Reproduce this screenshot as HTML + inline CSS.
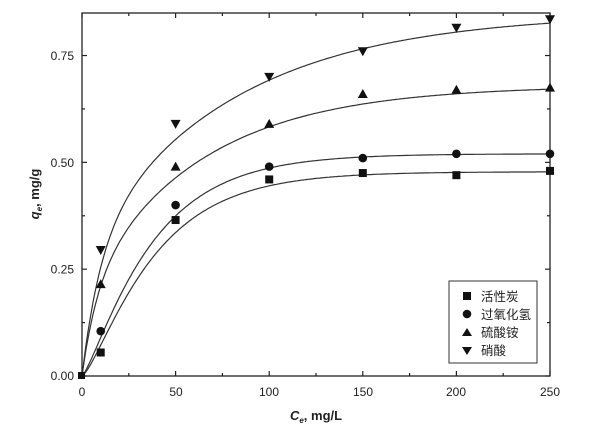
<!DOCTYPE html>
<html><head><meta charset="utf-8"><style>
html,body{margin:0;padding:0;background:#fff;}
svg{display:block;}
text{font-family:"Liberation Sans","Noto Sans CJK SC",sans-serif;fill:#222;}
</style></head><body>
<svg id="s" width="600" height="434" viewBox="0 0 600 434" xmlns="http://www.w3.org/2000/svg">
<rect x="82" y="13" width="468" height="363" fill="none" stroke="#222" stroke-width="1.3"/>
<g id="ticks" stroke="#222" stroke-width="1.2"></g>
<g font-size="12" text-anchor="end">
<text x="74" y="380">0.00</text>
<text x="74" y="273.5">0.25</text>
<text x="74" y="167">0.50</text>
<text x="74" y="60">0.75</text>
</g>
<g font-size="12" text-anchor="middle">
<text x="82" y="396">0</text>
<text x="176" y="396">50</text>
<text x="269" y="396">100</text>
<text x="363" y="396">150</text>
<text x="456" y="396">200</text>
<text x="550" y="396">250</text>
</g>
<text x="316" y="420" font-size="13" font-weight="bold" text-anchor="middle"><tspan font-style="italic">C</tspan><tspan font-size="8" dy="3" font-style="italic">e</tspan><tspan dy="-3">, mg/L</tspan></text>
<text transform="translate(39,194) rotate(-90)" font-size="13" font-weight="bold" text-anchor="middle"><tspan font-style="italic">q</tspan><tspan font-size="8" dy="3" font-style="italic">e</tspan><tspan dy="-3">, mg/g</tspan></text>
<g id="curves" fill="none" stroke="#333" stroke-width="1.2"></g>
<g id="pts" fill="#111"></g>
<rect x="449" y="281" width="88" height="82" fill="#fff" stroke="#333" stroke-width="1"/>
<g font-size="12.5">
<rect x="463" y="292" width="8" height="8" fill="#111"/><text x="481" y="301">活性炭</text>
<circle cx="467" cy="314" r="4.3" fill="#111"/><text x="481" y="319">过氧化氢</text>
<polygon points="467,328 472,336 462,336" fill="#111"/><text x="481" y="337">硫酸铵</text>
<polygon points="462,347 472,347 467,355" fill="#111"/><text x="481" y="355">硝酸</text>
</g>
</svg>
<script>
var X=function(c){return 82+c*1.872},Y=function(q){return 376-q*427.3};
var t=document.getElementById('ticks'),h='';
for(var c=0;c<=250;c+=25){var x=X(c),l=c%50?3:5;h+='<line x1="'+x+'" y1="376" x2="'+x+'" y2="'+(376-l)+'"/><line x1="'+x+'" y1="13" x2="'+x+'" y2="'+(13+l)+'"/>';}
for(var q=0;q<=0.85;q+=0.125){var y=Y(q),l=(Math.round(q*1000)%250)?3:5;h+='<line x1="82" y1="'+y+'" x2="'+(82+l)+'" y2="'+y+'"/><line x1="550" y1="'+y+'" x2="'+(550-l)+'" y2="'+y+'"/>';}
t.innerHTML=h;
var E=Math.exp,P=Math.pow;
var fs=[function(c){return 0.478*P(1-E(-0.03*c),1.4);},
function(c){return 0.52*P(1-E(-0.03*c),1.3);},
function(c){return 0.2*(1-E(-0.12*c))+0.48*(1-E(-0.016*c));},
function(c){return 0.3*(1-E(-0.1*c))+0.55*(1-E(-0.0125*c));}];
var ch='';
fs.forEach(function(f){var d='';for(var c=0;c<=250;c+=1){d+=(c?'L':'M')+X(c).toFixed(1)+' '+Y(f(c)).toFixed(1);}ch+='<path d="'+d+'"/>';});
document.getElementById('curves').innerHTML=ch;
var C=[10,50,100,150,200,250];
var D=[[0.055,0.365,0.46,0.475,0.47,0.48],[0.105,0.4,0.49,0.51,0.52,0.52],[0.215,0.49,0.59,0.66,0.67,0.675],[0.295,0.59,0.70,0.76,0.815,0.835]];
var p='<rect x="'+(X(0)-4)+'" y="'+(Y(0)-4)+'" width="7" height="7"/>';
D.forEach(function(s,i){s.forEach(function(q,j){var x=X(C[j]),y=Y(q);
if(i==0)p+='<rect x="'+(x-4)+'" y="'+(y-4)+'" width="8" height="8"/>';
if(i==1)p+='<circle cx="'+x+'" cy="'+y+'" r="4.3"/>';
if(i==2)p+='<polygon points="'+x+','+(y-5)+' '+(x+5)+','+(y+4)+' '+(x-5)+','+(y+4)+'"/>';
if(i==3)p+='<polygon points="'+(x-5)+','+(y-4)+' '+(x+5)+','+(y-4)+' '+x+','+(y+5)+'"/>';});});
document.getElementById('pts').innerHTML=p;
</script>
</body></html>
